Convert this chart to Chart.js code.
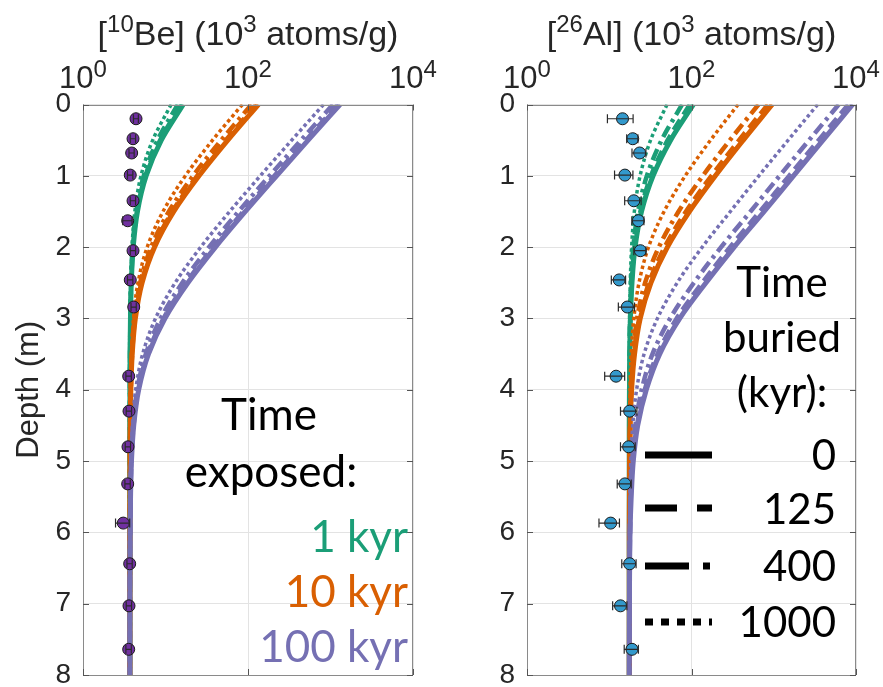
<!DOCTYPE html>
<html><head><meta charset="utf-8">
<script src="https://cdn.jsdelivr.net/npm/chart.js@4.4.1/dist/chart.umd.min.js"></script>
<style>
html,body{margin:0;padding:0;background:#fff;}
#wrap{position:relative;width:883px;height:687px;overflow:hidden;background:#fff;}
#c1{position:absolute;left:0;top:0;}
#c2{position:absolute;left:441px;top:0;}
</style></head><body>
<div id="wrap"><canvas id="c1" width="441" height="687"></canvas><canvas id="c2" width="442" height="687"></canvas></div>
<script>
// ---------------- data ----------------
const depthGrid = [0, 0.5, 1, 1.5, 2, 2.5, 3, 3.5, 4, 4.5, 5, 5.5, 6, 7, 8];
const depthTicks = [0, 1, 2, 3, 4, 5, 6, 7, 8];
const xTickValues = [1, 100, 10000];
const exposureTimes = ['1 kyr', '10 kyr', '100 kyr'];
const burialTimes = ['0', '125', '400', '1000'];

const sampleDepth = [0.20, 0.48, 0.68, 0.99, 1.35, 1.63, 2.05, 2.46, 2.84, 3.81, 4.30, 4.80, 5.32, 5.87, 6.44, 7.03, 7.64];
const be10Conc = [4.39, 4.04, 3.89, 3.74, 4.04, 3.48, 4.04, 3.74, 4.12, 3.58, 3.61, 3.51, 3.48, 3.08, 3.68, 3.61, 3.58];
const be10Err  = [0.30, 0.30, 0.28, 0.28, 0.30, 0.45, 0.30, 0.28, 0.30, 0.27, 0.27, 0.26, 0.26, 0.60, 0.27, 0.27, 0.27];
const al26Conc = [14.5, 19.3, 23.4, 15.5, 19.9, 22.6, 23.9, 13.2, 16.6, 12.1, 17.7, 17.2, 15.5, 10.4, 17.7, 13.7, 18.9];
const al26Err  = [5.0, 3.0, 4.5, 3.9, 4.5, 3.8, 4.0, 2.6, 3.7, 3.3, 4.0, 3.5, 3.0, 2.9, 3.5, 2.7, 3.7];

// model curves, rows = burial 0, 125, 400, 1000 kyr; columns follow depthGrid
const be10_1kyr = [
  [16.4, 8.9, 5.83, 4.57, 4.06, 3.85, 3.76, 3.72, 3.71, 3.70, 3.70, 3.70, 3.70, 3.70, 3.70],
  [15.6, 8.6, 5.70, 4.52, 4.04, 3.84, 3.76, 3.72, 3.71, 3.70, 3.70, 3.70, 3.70, 3.70, 3.70],
  [14.1, 8.0, 5.45, 4.42, 3.99, 3.82, 3.75, 3.72, 3.71, 3.70, 3.70, 3.70, 3.70, 3.70, 3.70],
  [11.7, 7.0, 5.04, 4.25, 3.93, 3.79, 3.74, 3.72, 3.71, 3.70, 3.70, 3.70, 3.70, 3.70, 3.70]
];
const be10_10kyr = [
  [133.7, 56.9, 25.5, 12.6, 7.36, 5.20, 4.31, 3.95, 3.80, 3.74, 3.72, 3.71, 3.70, 3.70, 3.70],
  [125.9, 53.7, 24.2, 12.1, 7.14, 5.11, 4.28, 3.94, 3.80, 3.74, 3.72, 3.71, 3.70, 3.70, 3.70],
  [110.3, 47.4, 21.6, 11.0, 6.70, 4.93, 4.20, 3.91, 3.78, 3.73, 3.71, 3.71, 3.70, 3.70, 3.70],
  [85.6, 37.2, 17.4, 9.33, 6.00, 4.64, 4.09, 3.86, 3.76, 3.73, 3.71, 3.70, 3.70, 3.70, 3.70]
];
const be10_100kyr = [
  [1304, 536, 222, 93.0, 40.3, 18.7, 9.83, 6.21, 4.73, 4.12, 3.87, 3.77, 3.73, 3.70, 3.70],
  [1226, 504, 209, 87.7, 38.1, 17.8, 9.47, 6.06, 4.67, 4.10, 3.86, 3.77, 3.73, 3.70, 3.70],
  [1070, 440, 182.5, 76.9, 33.7, 16.0, 8.73, 5.76, 4.54, 4.05, 3.84, 3.76, 3.72, 3.70, 3.70],
  [823, 339, 141, 60.0, 26.7, 13.1, 7.56, 5.28, 4.35, 3.97, 3.81, 3.74, 3.72, 3.70, 3.70]
];
const al26_1kyr = [
  [105.5, 55.7, 34.1, 24.7, 20.6, 18.9, 18.1, 17.8, 17.6, 17.5, 17.5, 17.5, 17.5, 17.5, 17.5],
  [95.3, 51.3, 32.2, 23.9, 20.3, 18.7, 18.0, 17.7, 17.6, 17.5, 17.5, 17.5, 17.5, 17.5, 17.5],
  [76.9, 43.3, 28.7, 22.4, 19.6, 18.4, 17.9, 17.7, 17.6, 17.5, 17.5, 17.5, 17.5, 17.5, 17.5],
  [50.4, 31.8, 23.7, 20.2, 18.7, 18.0, 17.7, 17.6, 17.5, 17.5, 17.5, 17.5, 17.5, 17.5, 17.5]
];
const al26_10kyr = [
  [957.5, 426, 195, 94.7, 51.0, 32.1, 23.8, 20.3, 18.7, 18.0, 17.7, 17.6, 17.5, 17.5, 17.5],
  [848.5, 378.6, 174.5, 85.7, 47.1, 30.4, 23.1, 19.9, 18.6, 18.0, 17.7, 17.6, 17.5, 17.5, 17.5],
  [652, 293.3, 137.4, 69.6, 40.1, 27.3, 21.8, 19.4, 18.3, 17.9, 17.7, 17.6, 17.5, 17.5, 17.5],
  [369, 170.3, 83.9, 46.4, 30.0, 23.0, 19.9, 18.5, 17.9, 17.7, 17.6, 17.5, 17.5, 17.5, 17.5]
];
const al26_100kyr = [
  [9118, 3973, 1737, 765, 330, 150, 72, 41, 28.2, 22.2, 19.6, 18.5, 17.9, 17.6, 17.5],
  [8062, 3513, 1537, 678, 294, 135, 66, 38.5, 27.0, 21.7, 19.3, 18.3, 17.9, 17.6, 17.5],
  [6160, 2687, 1178, 522, 229, 107, 55, 33.5, 24.8, 20.8, 19.0, 18.1, 17.8, 17.6, 17.5],
  [3421, 1496, 660, 297, 135, 67, 38.5, 26.5, 21.5, 19.3, 18.3, 17.9, 17.7, 17.5, 17.5]
];

// ---------------- styles ----------------
const expColors = ['#1b9e77', '#d95f02', '#7570b3'];
const burialStyle = [
  {w: 5, dash: []},
  {w: 4.5, dash: [12, 6]},
  {w: 4.5, dash: [12, 5, 3.5, 5]},
  {w: 3.5, dash: [3.5, 3]}
];
const legendDash = [[], [32, 20], [44, 14, 7, 14], [8, 8]];
const TICK_FONT = 'Liberation Sans';
const ANN_FONT = 'Lato';

function curveDatasets(groups) {
  const out = [];
  groups.forEach((rows, e) => {
    rows.forEach((vals, b) => {
      out.push({
        data: vals.map((v, i) => ({x: v, y: depthGrid[i]})),
        borderColor: expColors[e],
        borderWidth: burialStyle[b].w,
        borderDash: burialStyle[b].dash,
        borderCapStyle: 'butt',
        pointRadius: 0, pointHoverRadius: 0, fill: false,
        cubicInterpolationMode: 'monotone',
        order: 1 + (2 - e) * 4 + b
      });
    });
  });
  return out;
}
function markerDataset(conc, err, color) {
  return {
    data: sampleDepth.map((d, i) => ({x: conc[i], y: d})),
    showLine: false, pointRadius: 6, pointHoverRadius: 6,
    pointBackgroundColor: color, pointBorderColor: '#1a1a1a', pointBorderWidth: 1,
    order: 0, errs: err
  };
}

function drawRich(ctx, parts, cx, baseline, size, supSize, supRaise) {
  let w = 0;
  parts.forEach(p => { ctx.font = (p.sup ? supSize : size) + 'px "' + TICK_FONT + '"'; w += ctx.measureText(p.t).width; });
  let x = cx - w / 2;
  ctx.textAlign = 'left'; ctx.textBaseline = 'alphabetic';
  parts.forEach(p => {
    ctx.font = (p.sup ? supSize : size) + 'px "' + TICK_FONT + '"';
    ctx.fillText(p.t, x, p.sup ? baseline - supRaise : baseline);
    x += ctx.measureText(p.t).width;
  });
}

const overlay = {
  id: 'overlay',
  afterDatasetsDraw(chart) {
    const {ctx, scales: {x, y}} = chart;
    chart.data.datasets.forEach(ds => {
      if (!ds.errs) return;
      ctx.save();
      ctx.strokeStyle = '#2a2a2a'; ctx.lineWidth = 1.2;
      ds.data.forEach((p, i) => {
        const e = ds.errs[i];
        const x0 = x.getPixelForValue(p.x - e), x1 = x.getPixelForValue(p.x + e), py = y.getPixelForValue(p.y);
        ctx.beginPath();
        ctx.moveTo(x0, py); ctx.lineTo(x1, py);
        ctx.moveTo(x0, py - 4.5); ctx.lineTo(x0, py + 4.5);
        ctx.moveTo(x1, py - 4.5); ctx.lineTo(x1, py + 4.5);
        ctx.stroke();
      });
      ctx.restore();
    });
  },
  afterDraw(chart, args, opts) {
    const {ctx, chartArea: a, scales: {x, y}} = chart;
    ctx.save();
    // axes box and inward ticks
    ctx.strokeStyle = '#8a8a8a'; ctx.lineWidth = 1;
    ctx.strokeRect(Math.round(a.left) + 0.5, Math.round(a.top) + 0.5, Math.round(a.right - a.left) - 1, Math.round(a.bottom - a.top) - 1);
    ctx.strokeStyle = '#555';
    ctx.beginPath();
    depthTicks.forEach(v => {
      const py = Math.round(y.getPixelForValue(v)) + 0.5;
      ctx.moveTo(a.left, py); ctx.lineTo(a.left + 6, py);
      ctx.moveTo(a.right, py); ctx.lineTo(a.right - 6, py);
    });
    xTickValues.forEach(v => {
      const px = Math.round(x.getPixelForValue(v)) + 0.5;
      ctx.moveTo(px, a.top); ctx.lineTo(px, a.top + 6);
      ctx.moveTo(px, a.bottom); ctx.lineTo(px, a.bottom - 6);
    });
    ctx.stroke();
    // x tick labels 10^n
    ctx.fillStyle = '#262626';
    xTickValues.forEach(v => {
      const px = x.getPixelForValue(v);
      drawRich(ctx, [{t: '10'}, {t: String(Math.round(Math.log10(v))), sup: true}], px, 88, 31, 24, 11);
    });
    // axis title
    drawRich(ctx, opts.title, (a.left + a.right) / 2, 45, 34, 24, 13);
    // annotations
    ctx.textBaseline = 'alphabetic';
    opts.texts.forEach(t => {
      ctx.font = (t.size || 42) + 'px "' + ANN_FONT + '"';
      ctx.fillStyle = t.color || '#000';
      ctx.textAlign = t.align;
      ctx.fillText(t.t, t.x, t.y);
    });
    // legend sample lines
    (opts.lines || []).forEach(l => {
      ctx.strokeStyle = '#000'; ctx.lineWidth = 7; ctx.lineCap = 'butt';
      ctx.setLineDash(l.dash);
      ctx.beginPath(); ctx.moveTo(l.x0, l.y); ctx.lineTo(l.x1, l.y); ctx.stroke();
    });
    ctx.setLineDash([]);
    ctx.restore();
  }
};

function makeChart(id, cfg) {
  return new Chart(document.getElementById(id), {
    type: 'line',
    data: {datasets: [...curveDatasets(cfg.groups), markerDataset(cfg.conc, cfg.err, cfg.markerColor)]},
    options: {
      responsive: false, animation: false, devicePixelRatio: 1,
      indexAxis: 'y',
      layout: {padding: {left: 0, top: 0, right: cfg.padRight, bottom: 12}},
      plugins: {legend: {display: false}, tooltip: {enabled: false}, overlay: cfg.overlay},
      events: [],
      scales: {
        x: {
          type: 'logarithmic', position: 'top', min: 1, max: 10000,
          afterBuildTicks: s => { s.ticks = xTickValues.map(v => ({value: v, major: true})); },
          ticks: {display: false},
          grid: {color: '#e3e3e3', lineWidth: 1, drawTicks: false},
          border: {display: false},
          afterFit: s => { s.height = 104.5; s.paddingLeft = 0; s.paddingRight = 0; }
        },
        y: {
          type: 'linear', reverse: true, min: 0, max: 8,
          afterBuildTicks: s => { s.ticks = depthTicks.map(v => ({value: v})); },
          ticks: {color: '#262626', font: {family: TICK_FONT, size: 28}, padding: 12},
          grid: {color: '#e3e3e3', lineWidth: 1, drawTicks: false},
          border: {display: false},
          title: {display: cfg.yTitle, text: 'Depth (m)', color: '#262626', font: {family: TICK_FONT, size: 31}, padding: {top: 11, bottom: 0}},
          afterFit: s => { s.width = cfg.yWidth; s.paddingTop = 0; s.paddingBottom = 0; }
        }
      }
    },
    plugins: [overlay]
  });
}

makeChart('c1', {
  groups: [be10_1kyr, be10_10kyr, be10_100kyr],
  conc: be10Conc, err: be10Err, markerColor: '#7030a0',
  padRight: 28, yWidth: 83, yTitle: true,
  overlay: {
    title: [{t: '['}, {t: '10', sup: true}, {t: 'Be] (10'}, {t: '3', sup: true}, {t: ' atoms/g)'}],
    texts: [
      {t: 'Time', x: 269, y: 430, align: 'center', size: 44},
      {t: 'exposed:', x: 271, y: 487, align: 'center', size: 44},
      {t: exposureTimes[0], x: 408, y: 552, align: 'right', color: expColors[0], size: 44},
      {t: exposureTimes[1], x: 408, y: 607, align: 'right', color: expColors[1], size: 44},
      {t: exposureTimes[2], x: 408, y: 662, align: 'right', color: expColors[2], size: 44}
    ]
  }
});

makeChart('c2', {
  groups: [al26_1kyr, al26_10kyr, al26_100kyr],
  conc: al26Conc, err: al26Err, markerColor: '#3399cc',
  padRight: 27, yWidth: 86, yTitle: false,
  overlay: {
    title: [{t: '['}, {t: '26', sup: true}, {t: 'Al] (10'}, {t: '3', sup: true}, {t: ' atoms/g)'}],
    texts: [
      {t: 'Time', x: 341, y: 297, align: 'center'},
      {t: 'buried', x: 341, y: 352, align: 'center'},
      {t: '(kyr):', x: 341, y: 407, align: 'center'},
      {t: burialTimes[0], x: 395, y: 470, align: 'right'},
      {t: burialTimes[1], x: 395, y: 524, align: 'right'},
      {t: burialTimes[2], x: 395, y: 581, align: 'right'},
      {t: burialTimes[3], x: 395, y: 637, align: 'right'}
    ],
    lines: [
      {x0: 204, x1: 271, y: 455, dash: legendDash[0]},
      {x0: 204, x1: 271, y: 508, dash: legendDash[1]},
      {x0: 204, x1: 271, y: 566, dash: legendDash[2]},
      {x0: 204, x1: 271, y: 622, dash: legendDash[3]}
    ]
  }
});
</script></body></html>
